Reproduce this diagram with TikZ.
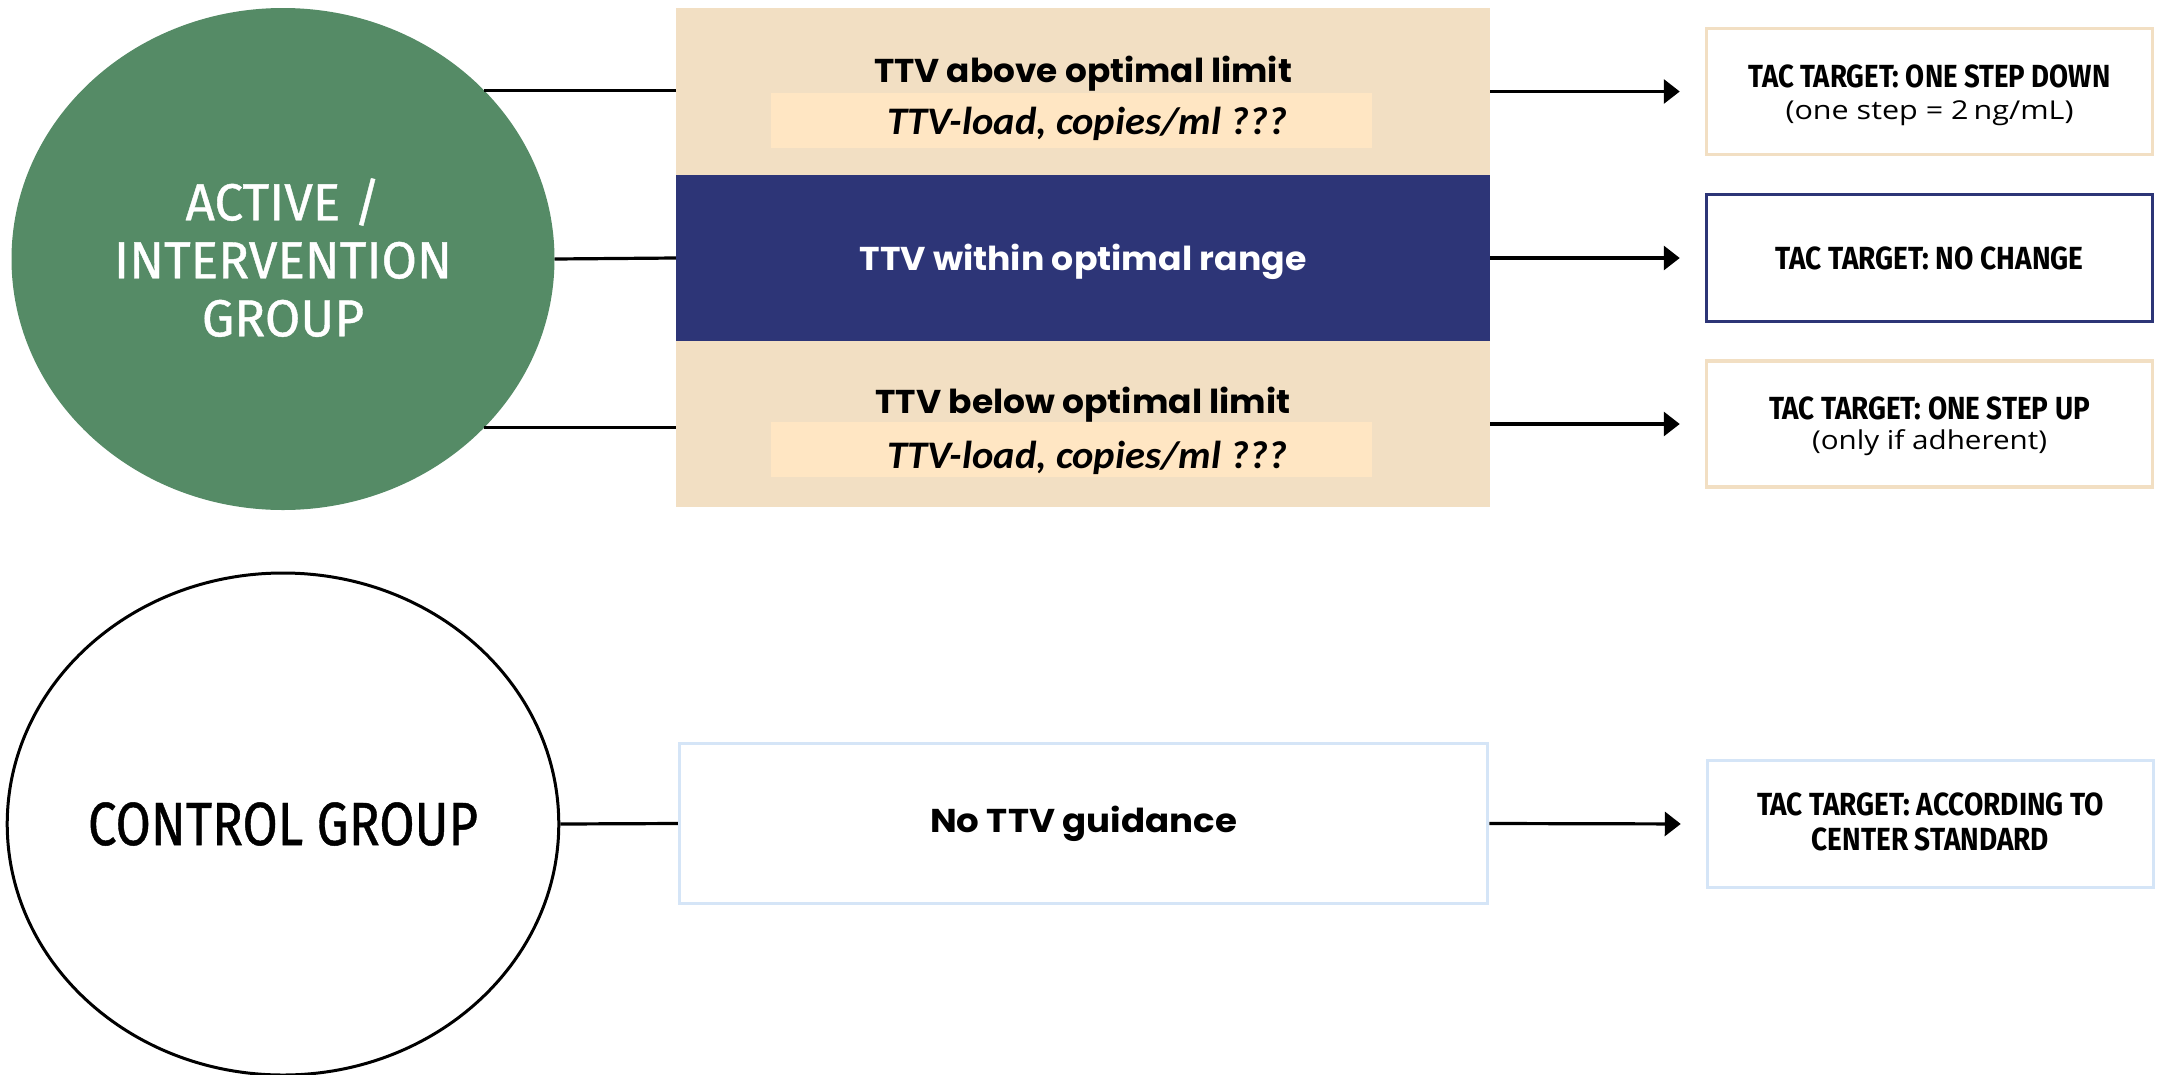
\documentclass[tikz,border=0pt]{standalone}
\usepackage{fontspec}
\usepackage{graphicx}
\setmainfont{Lato}
\newfontfamily\condfont{Fira Sans}
\newfontfamily\circfont[FakeBold=0.8]{Fira Sans}
\newfontfamily\boxfont{Poppins}
\newfontfamily\itfont{Carlito}
\newfontfamily\subfont{Open Sans}
\usetikzlibrary{shapes.geometric,arrows.meta}
\definecolor{grp}{HTML}{558B66}
\definecolor{tanc}{HTML}{F2DFC3}
\definecolor{innerc}{HTML}{FFE6C3}
\definecolor{navyc}{HTML}{2D3577}
\definecolor{lblue}{HTML}{D5E5F7}
\newcommand\fitw[2]{\resizebox{#1}{\height}{#2}}
\begin{document}
\begin{tikzpicture}[x=1pt,y=-1pt,
  grpcirc/.style={ellipse, inner sep=0pt, minimum width=543pt, minimum height=502pt, align=center},
  band/.style={rectangle, inner sep=0pt, minimum width=814pt, draw=none},
  innerbox/.style={rectangle, inner sep=0pt, minimum width=601pt, minimum height=55pt, fill=innerc},
  resbox/.style={rectangle, inner sep=0pt, minimum width=446pt, fill=white, line width=3.5pt, align=center},
  conn/.style={line width=3.2pt, black},
  arr/.style={line width=3.2pt, black, -{Triangle[length=16pt,width=24pt]}, shorten >=25pt},
  bandtxt/.style={font=\boxfont\bfseries\fontsize{33}{38}\selectfont, inner sep=0pt},
  ittxt/.style={font=\itfont\bfseries\itshape\fontsize{39}{44}\selectfont, inner sep=0pt},
  headtxt/.style={font=\condfont\bfseries\fontsize{32}{35}\selectfont, inner sep=0pt},
  subtxt/.style={font=\subfont\fontsize{26}{34}\selectfont, inner sep=0pt}
]
\fill[white] (0,0) rectangle (2165,1074);
\useasboundingbox (0,0) rectangle (2165,1074);

% groups
\node[grpcirc, fill=grp] (act) at (283,259) {};
\node[text=white, inner sep=0pt, font=\circfont\fontsize{52}{58}\selectfont] (actT) at (283,266)
  {\fitw{338pt}{\begin{tabular}{@{}c@{}}ACTIVE /\\INTERVENTION\\GROUP\end{tabular}}};
\node[grpcirc, draw=black, line width=3pt, font=\circfont\fontsize{61}{64}\selectfont] (ctl) at (283,824)
  {\fitw{390pt}{CONTROL GROUP}};

% bands
\node[band, fill=tanc, minimum height=167pt] (tanA) at (1083,91.5) {};
\node[band, fill=navyc, minimum height=166pt] (navy) at (1083,258) {};
\node[band, fill=tanc, minimum height=166pt] (tanC) at (1083,424) {};
\node[innerbox] (inA) at (1071,120.5) {};
\node[innerbox] (inC) at (1071,449.5) {};
\node[bandtxt] (tA) at (1083,74) {\fitw{418pt}{TTV above optimal limit}};
\node[ittxt] (iA) at (1087,124) {\fitw{400pt}{TTV-load, copies/ml ???}};
\node[bandtxt, text=white] (tB) at (1083,262) {\fitw{447pt}{TTV within optimal range}};
\node[bandtxt] (tC) at (1083,405) {\fitw{415pt}{TTV below optimal limit}};
\node[ittxt] (iC) at (1087,458) {\fitw{400pt}{TTV-load, copies/ml ???}};

\node[rectangle, minimum width=808pt, minimum height=160pt, draw=lblue, line width=3.5pt, font=\boxfont\bfseries\fontsize{33}{38}\selectfont] (guid) at (1083.5,823.5)
  {\fitw{307pt}{No TTV guidance}};

% result boxes
\node[resbox, draw=tanc, minimum height=126pt] (rA) at (1929.5,91.5) {};
\node[headtxt] (hA) at (1929.5,76) {\fitw{362pt}{TAC TARGET: ONE STEP DOWN}};
\node[subtxt] (sA) at (1929.5,113) {\fitw{288pt}{(one step = 2\,ng/mL)}};
\node[resbox, draw=navyc, minimum height=127pt] (rB) at (1929.5,258) {};
\node[headtxt] (hB) at (1929.5,258) {\fitw{308pt}{TAC TARGET: NO CHANGE}};
\node[resbox, draw=tanc, minimum height=126pt] (rC) at (1929.5,424) {};
\node[headtxt] (hC) at (1929.5,408) {\fitw{321pt}{TAC TARGET: ONE STEP UP}};
\node[subtxt] (sC) at (1929.5,443) {\fitw{235pt}{(only if adherent)}};
\node[resbox, draw=lblue, minimum height=127pt] (rD) at (1930.5,824) {};
\node[headtxt] (hD) at (1930.5,826)
  {\fitw{347pt}{\begin{tabular}{@{}c@{}}TAC TARGET: ACCORDING TO\\CENTER STANDARD\end{tabular}}};

% connectors
\draw[conn] (act.40) -- (act.40 -| tanA.west);
\draw[conn] (act.east) -- (navy.west);
\draw[conn] (act.-40) -- (act.-40 -| tanC.west);
\draw[conn] (ctl.east) -- (guid.west);
\draw[arr] (tanA.east) -- (rA.west);
\draw[arr] (navy.east) -- (rB.west);
\draw[arr] (tanC.east) -- (rC.west);
\draw[arr] (guid.east) -- (rD.west);
\end{tikzpicture}
\end{document}
